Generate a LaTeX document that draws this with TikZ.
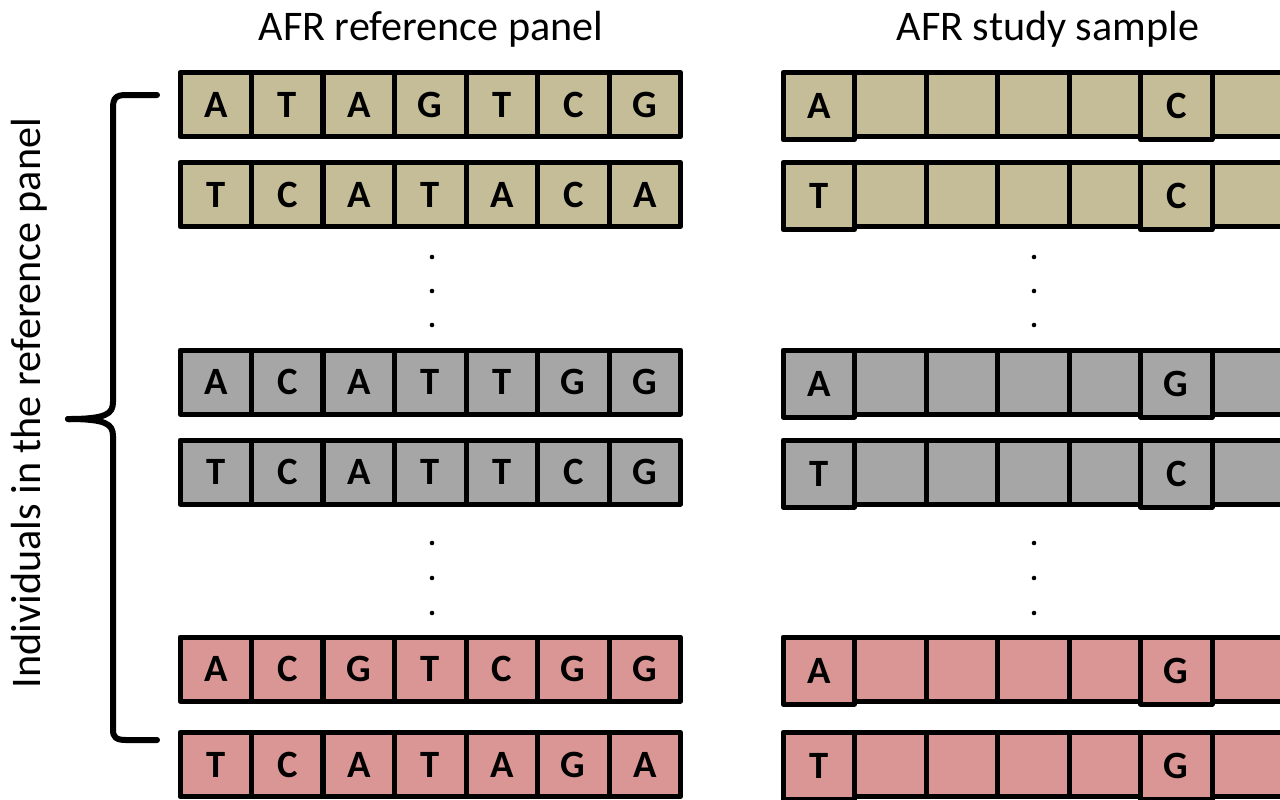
\documentclass[tikz,border=0pt]{standalone}
\usepackage{fontspec}
\setmainfont{Carlito}

\definecolor{tanfill}{HTML}{C4BD97}
\definecolor{greyfill}{HTML}{A6A6A6}
\definecolor{redfill}{HTML}{D99694}

\tikzset{
    base cell/.style={draw=black, line width=0.1cm, line join=round, inner sep=0pt, outer sep=0pt,
        minimum width=1.43cm, minimum height=1.28cm, font=\bfseries\fontsize{22}{26}\selectfont},
    known cell/.style={base cell, minimum height=1.34cm, yshift=-0.03cm},
    panel title/.style={font=\fontsize{24}{28}\selectfont, anchor=base},
    dot/.style={fill=black}
}

\begin{document}
\begin{tikzpicture}[x=0.02cm, y=-0.02cm]
    \useasboundingbox (0,0) rectangle (1280,799);
    \clip (0,0) rectangle (1280,799);

    % Titles
    \node[panel title] (reftitle) at (431,40) {AFR reference panel};
    \node[panel title] (studytitle) at (1048,40) {AFR study sample};

    % Reference panel haplotypes
    \foreach \r/\ypos/\col/\seq in {1/104.5/tanfill/{A,T,A,G,T,C,G}, 2/194.5/tanfill/{T,C,A,T,A,C,A},
            3/382/greyfill/{A,C,A,T,T,G,G}, 4/472/greyfill/{T,C,A,T,T,C,G},
            5/669/redfill/{A,C,G,T,C,G,G}, 6/764.5/redfill/{T,C,A,T,A,G,A}}
        \foreach \b [count=\i] in \seq
            \node[base cell, fill=\col] (ref\r-\i) at ({180+71.5*(\i-0.5)},\ypos) {\b};

    % Study sample, only two sites typed
    \foreach \r/\ypos/\col/\first/\sixth in {1/104.5/tanfill/A/C, 2/194.5/tanfill/T/C,
            3/382/greyfill/A/G, 4/472/greyfill/T/C, 5/669/redfill/A/G, 6/764.5/redfill/T/G} {
        \foreach \i in {2,3,4,5,7}
            \node[base cell, fill=\col] (study\r-\i) at ({783+71.5*(\i-0.5)},\ypos) {};
        \node[known cell, fill=\col] (study\r-1) at ({783+71.5*0.5},\ypos) {\first};
        \node[known cell, fill=\col] (study\r-6) at ({783+71.5*5.5},\ypos) {\sixth};
    }

    % Dots
    \foreach \xpos in {432,1034}
        \foreach \ypos in {257,291,325,543,578,613}
            \fill[dot] (\xpos,\ypos) circle (1.3pt);

    % Brace
    \draw[line width=0.12cm, line cap=round, line join=round]
        (157,95) -- (126,95) .. controls (116,95) and (113,98) .. (113,108) -- (113,402)
        .. controls (113,414) and (106,419) .. (68,419);
    \draw[line width=0.12cm, line cap=round, line join=round]
        (68,419) .. controls (106,419) and (113,424) .. (113,436) -- (113,730)
        .. controls (113,737) and (116,740) .. (126,740) -- (157,740);

    % Side label
    \node[rotate=90, font=\fontsize{24}{28}\selectfont] (sidelabel) at (29,403) {Individuals in the reference panel};
\end{tikzpicture}
\end{document}
